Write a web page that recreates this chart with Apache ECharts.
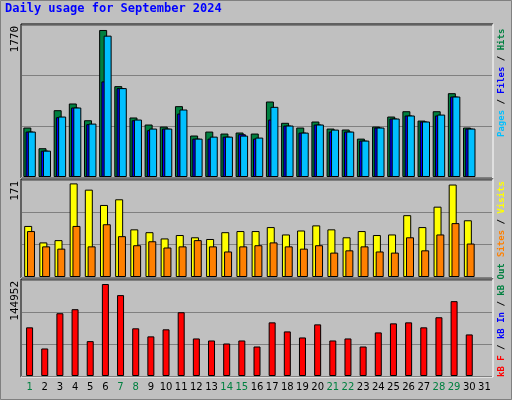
<!DOCTYPE html>
<html>
<head>
<meta charset="utf-8">
<script src="https://cdn.jsdelivr.net/npm/echarts@6/dist/echarts.min.js"></script>
<style>html,body{margin:0;padding:0;background:#c0c0c0}#chart{width:512px;height:400px}</style>
</head>
<body>
<div id="chart"></div>
<script>
// days of September 2024, weekends drawn in green
var days = [];
for (var d = 1; d <= 31; d++) days.push(String(d));
var weekends = ['1','7','8','14','15','21','22','28','29'];

var hits  = [576,335,778,856,661,1712,1058,693,611,587,825,483,529,506,518,506,879,631,576,646,564,553,447,587,704,766,657,766,976,576];
var files = [529,307,704,809,622,1646,1035,669,564,564,786,447,470,470,482,459,817,599,517,611,552,529,424,576,681,716,646,727,937,564];
var pages = [529,307,696,809,615,1113,1035,661,545,564,739,447,447,470,498,447,669,599,517,611,529,529,424,576,681,716,646,716,937,564];

var visits = [90,61,65,165,154,127,137,84,79,68,74,70,67,79,81,81,88,75,82,91,84,70,81,74,75,109,88,124,163,100];
var sites  = [81,54,50,90,54,93,72,56,63,52,54,65,54,45,54,56,61,54,50,56,43,47,54,45,43,70,47,75,95,59];

var kbytes = [73490,41561,94783,100864,52636,138869,122144,72000,59834,70479,96304,56687,53646,49085,53646,44524,81000,67320,58200,77965,53646,56687,44524,65800,79490,81000,73490,88700,113026,62757];

var maxHits = 1770, maxVisits = 171, maxKb = 144952;

var grids = [
  {left: 22, right: 20, top: 25, height: 152},
  {left: 22, right: 20, top: 180, height: 97},
  {left: 22, right: 20, top: 280, height: 96}
];

function yAx(i, max) {
  return {gridIndex: i, min: 0, max: max, interval: max / 3,
    axisLabel: {show: false}, axisLine: {show: false}, axisTick: {show: false},
    splitLine: {show: true, lineStyle: {color: '#808080', width: 1}}};
}
function xAx(i, showLabels) {
  return {gridIndex: i, type: 'category', data: days,
    axisLine: {show: false}, axisTick: {show: false},
    axisLabel: {show: showLabels, margin: 6, interval: 0, fontFamily: 'DejaVu Sans', fontSize: 10, color: '#000',
      formatter: function (v) { return weekends.indexOf(v) >= 0 ? '{w|' + v + '}' : v; },
      rich: {w: {color: '#008040', fontFamily: 'DejaVu Sans', fontSize: 10}}}};
}
var bs = {borderColor: '#000', borderWidth: 1};

function panelBorder(g) {
  var x1 = g.left - 1, y1 = g.top - 1, x2 = 512 - g.right + 1, y2 = g.top + g.height + 1;
  return [
    {type: 'polyline', shape: {points: [[x1, y2], [x1, y1], [x2, y1]]}, style: {stroke: '#000', lineWidth: 1, fill: null}},
    {type: 'polyline', shape: {points: [[x2, y1], [x2, y2], [x1, y2]]}, style: {stroke: '#fff', lineWidth: 1, fill: null}}
  ];
}
function vtext(x, y, rich, str) {
  return {type: 'text', x: x, y: y, rotation: Math.PI / 2,
    style: {text: str, rich: rich, font: 'bold 9px "DejaVu Sans Mono"', align: 'left', verticalAlign: 'middle', fill: '#000'}};
}
var r = function (c) { return {fill: c, fontFamily: 'DejaVu Sans Mono', fontSize: 9, fontWeight: 'bold'}; };

var graphic = [
  {type: 'rect', shape: {x: 0.5, y: 0.5, width: 511, height: 399}, style: {fill: null, stroke: '#808080', lineWidth: 1}},
  {type: 'text', x: 5, y: 9, style: {text: 'Daily usage for September 2024', font: 'bold 12px "DejaVu Sans Mono"', fill: '#0000ff', verticalAlign: 'middle'}},
  {type: 'text', x: 15, y: 26, rotation: Math.PI / 2, style: {text: '1770', font: '11px "DejaVu Sans Mono"', fill: '#000', align: 'right', verticalAlign: 'middle'}},
  {type: 'text', x: 15, y: 181, rotation: Math.PI / 2, style: {text: '171', font: '11px "DejaVu Sans Mono"', fill: '#000', align: 'right', verticalAlign: 'middle'}},
  {type: 'text', x: 15, y: 281, rotation: Math.PI / 2, style: {text: '144952', font: '11px "DejaVu Sans Mono"', fill: '#000', align: 'right', verticalAlign: 'middle'}},
  vtext(502, 137, {p: r('#00c0ff'), f: r('#0000ff'), h: r('#008040'), s: r('#000')}, '{p|Pages}{s| / }{f|Files}{s| / }{h|Hits}'),
  vtext(502, 257, {o: r('#ff8000'), v: r('#ffff00'), s: r('#000')}, '{o|Sites}{s| / }{v|Visits}'),
  vtext(502, 377, {a: r('#ff0000'), b: r('#0000ff'), c: r('#008040'), s: r('#000')}, '{a|kB F}{s| / }{b|kB In}{s| / }{c|kB Out}')
];
grids.forEach(function (g) { graphic = graphic.concat(panelBorder(g)); });

var option = {
  animation: false,
  backgroundColor: '#c0c0c0',
  grid: grids,
  xAxis: [xAx(0, false), xAx(1, false), xAx(2, true)],
  yAxis: [yAx(0, maxHits), yAx(1, maxVisits), yAx(2, maxKb)],
  graphic: graphic,
  series: [
    {type: 'bar', xAxisIndex: 0, yAxisIndex: 0, data: hits, barWidth: 8, barGap: '-72%', itemStyle: Object.assign({color: '#008040'}, bs)},
    {type: 'bar', xAxisIndex: 0, yAxisIndex: 0, data: pages, barWidth: 8, barGap: '-72%', itemStyle: Object.assign({color: '#0000ff'}, bs)},
    {type: 'bar', xAxisIndex: 0, yAxisIndex: 0, data: files, barWidth: 8, barGap: '-72%', itemStyle: Object.assign({color: '#00c0ff'}, bs)},
    {type: 'bar', xAxisIndex: 1, yAxisIndex: 1, data: visits, barWidth: 8, barGap: '-65%', itemStyle: Object.assign({color: '#ffff00'}, bs)},
    {type: 'bar', xAxisIndex: 1, yAxisIndex: 1, data: sites, barWidth: 8, barGap: '-65%', itemStyle: Object.assign({color: '#ff8000'}, bs)},
    {type: 'bar', xAxisIndex: 2, yAxisIndex: 2, data: kbytes, barWidth: 7, itemStyle: Object.assign({color: '#ff0000'}, bs)}
  ]
};

var myChart = echarts.init(document.getElementById('chart'));
myChart.setOption(option);
</script>
</body>
</html>
